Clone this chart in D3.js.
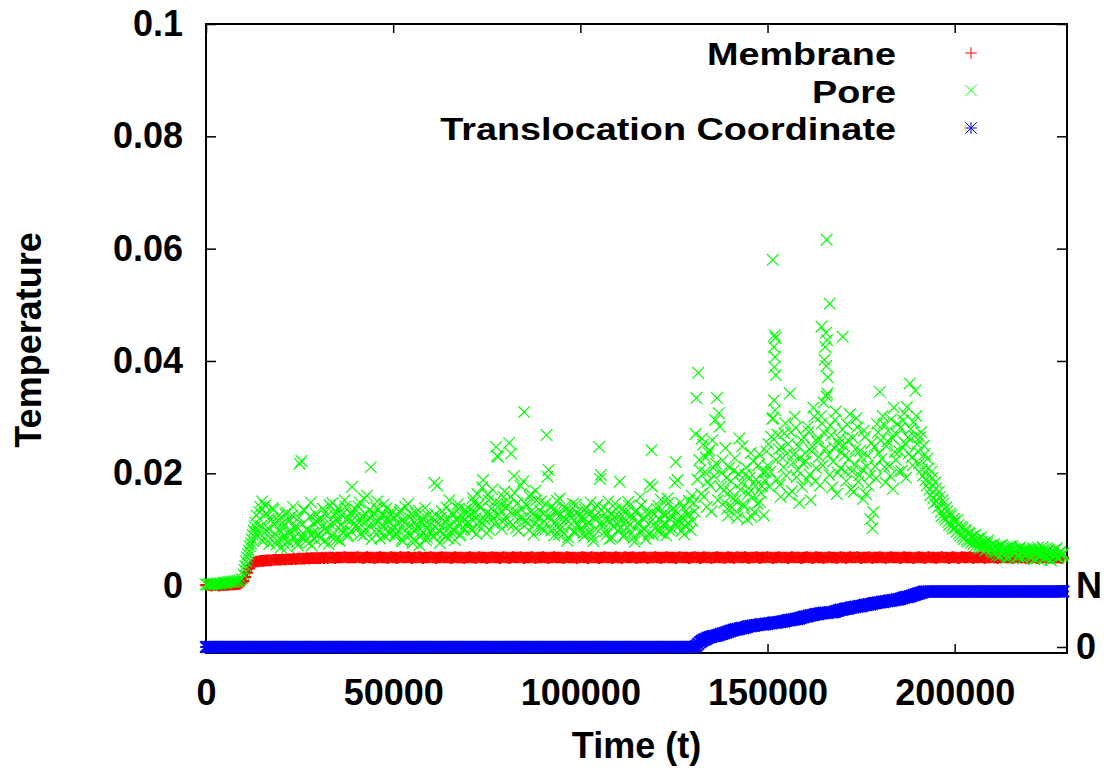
<!DOCTYPE html>
<html>
<head>
<meta charset="utf-8">
<script src="https://cdn.jsdelivr.net/npm/d3@7"></script>
<style>
  body { margin: 0; background: #fff; }
  svg text { font-family: "Liberation Sans", Arial, Helvetica, sans-serif; font-weight: bold; }
</style>
</head>
<body>
<div id="chart"></div>
<script>
// samples are written every 500 time units, starting at t = 0
const sampleStep = 500;

// Membrane temperature
const membrane = [
  0.0001,0.0001,0.0001,0.0000,0.0001,0.0001,0.0001,0.0000,0.0001,0.0001,0.0001,0.0001,0.0001,0.0002,0.0002,0.0002,0.0002,0.0003,0.0003,0.0005,
  0.0008,0.0015,0.0023,0.0030,0.0036,0.0040,0.0042,0.0043,0.0043,0.0044,0.0044,0.0044,0.0045,0.0045,0.0045,0.0045,0.0046,0.0046,0.0046,0.0046,
  0.0046,0.0047,0.0046,0.0047,0.0047,0.0047,0.0047,0.0048,0.0047,0.0048,0.0048,0.0048,0.0048,0.0048,0.0049,0.0048,0.0049,0.0049,0.0049,0.0049,
  0.0049,0.0049,0.0050,0.0049,0.0050,0.0049,0.0050,0.0050,0.0050,0.0049,0.0050,0.0050,0.0050,0.0050,0.0051,0.0050,0.0050,0.0050,0.0050,0.0050,
  0.0050,0.0051,0.0050,0.0050,0.0049,0.0050,0.0051,0.0050,0.0050,0.0050,0.0049,0.0050,0.0050,0.0051,0.0050,0.0050,0.0050,0.0049,0.0050,0.0051,
  0.0050,0.0050,0.0049,0.0050,0.0051,0.0050,0.0050,0.0050,0.0051,0.0050,0.0049,0.0050,0.0050,0.0050,0.0051,0.0050,0.0049,0.0050,0.0050,0.0050,
  0.0051,0.0050,0.0050,0.0049,0.0050,0.0050,0.0051,0.0050,0.0050,0.0050,0.0050,0.0049,0.0050,0.0051,0.0050,0.0050,0.0050,0.0050,0.0049,0.0050,
  0.0050,0.0051,0.0050,0.0050,0.0049,0.0050,0.0051,0.0050,0.0050,0.0050,0.0049,0.0050,0.0050,0.0051,0.0050,0.0050,0.0050,0.0049,0.0050,0.0051,
  0.0050,0.0050,0.0049,0.0050,0.0051,0.0050,0.0050,0.0050,0.0051,0.0050,0.0049,0.0050,0.0050,0.0050,0.0051,0.0050,0.0049,0.0050,0.0050,0.0050,
  0.0051,0.0050,0.0050,0.0049,0.0050,0.0050,0.0051,0.0050,0.0050,0.0050,0.0050,0.0049,0.0050,0.0051,0.0050,0.0050,0.0050,0.0050,0.0049,0.0050,
  0.0050,0.0051,0.0050,0.0050,0.0049,0.0050,0.0051,0.0050,0.0050,0.0050,0.0049,0.0050,0.0050,0.0051,0.0050,0.0050,0.0050,0.0049,0.0050,0.0051,
  0.0050,0.0050,0.0049,0.0050,0.0051,0.0050,0.0050,0.0050,0.0051,0.0050,0.0049,0.0050,0.0050,0.0050,0.0051,0.0050,0.0049,0.0050,0.0050,0.0050,
  0.0051,0.0050,0.0050,0.0049,0.0050,0.0050,0.0051,0.0050,0.0050,0.0050,0.0050,0.0049,0.0050,0.0051,0.0050,0.0050,0.0050,0.0050,0.0049,0.0050,
  0.0050,0.0051,0.0050,0.0050,0.0049,0.0050,0.0051,0.0050,0.0050,0.0050,0.0049,0.0050,0.0050,0.0051,0.0050,0.0050,0.0050,0.0049,0.0050,0.0051,
  0.0050,0.0050,0.0049,0.0050,0.0051,0.0050,0.0050,0.0050,0.0051,0.0050,0.0049,0.0050,0.0050,0.0050,0.0051,0.0050,0.0049,0.0050,0.0050,0.0050,
  0.0051,0.0050,0.0050,0.0049,0.0050,0.0050,0.0051,0.0050,0.0050,0.0050,0.0050,0.0049,0.0050,0.0051,0.0050,0.0050,0.0050,0.0050,0.0049,0.0050,
  0.0050,0.0051,0.0050,0.0050,0.0049,0.0050,0.0051,0.0050,0.0050,0.0050,0.0049,0.0050,0.0050,0.0051,0.0050,0.0050,0.0050,0.0049,0.0050,0.0051,
  0.0050,0.0050,0.0049,0.0050,0.0051,0.0050,0.0050,0.0050,0.0051,0.0050,0.0049,0.0050,0.0050,0.0050,0.0051,0.0050,0.0049,0.0050,0.0050,0.0050,
  0.0051,0.0050,0.0050,0.0049,0.0050,0.0050,0.0051,0.0050,0.0050,0.0050,0.0050,0.0049,0.0050,0.0051,0.0050,0.0050,0.0050,0.0050,0.0049,0.0050,
  0.0050,0.0051,0.0050,0.0050,0.0049,0.0050,0.0051,0.0050,0.0050,0.0050,0.0049,0.0050,0.0050,0.0051,0.0050,0.0050,0.0050,0.0049,0.0050,0.0051,
  0.0050,0.0050,0.0049,0.0050,0.0051,0.0050,0.0050,0.0050,0.0051,0.0050,0.0049,0.0050,0.0050,0.0050,0.0051,0.0050,0.0049,0.0050,0.0050,0.0050,
  0.0051,0.0050,0.0050,0.0049,0.0050,0.0050,0.0051,0.0050,0.0050,0.0050,0.0050,0.0049,0.0050,0.0051,0.0050,0.0050,0.0050,0.0050,0.0049,0.0050,
  0.0050,0.0051,0.0050,0.0050,0.0049,0.0050,0.0051,0.0050,0.0050,0.0050,0.0049,0.0050,0.0050,0.0051,0.0050,0.0050,0.0050,0.0049,0.0050
];

// Pore temperature, samples at t = 0, 500, 1000, ...
const pore = [
  0.0002,0.0002,0.0003,0.0002,0.0003,0.0003,0.0004,0.0004,0.0004,0.0005,0.0005,0.0005,0.0006,0.0006,0.0007,0.0007,0.0008,0.0008,0.0009,0.0012,
  0.0020,0.0035,0.0050,0.0062,0.0075,0.0090,0.0105,0.0125,0.0095,0.0140,0.0150,0.0085,0.0128,0.0102,0.0075,0.0118,0.0135,0.0092,0.0080,0.0125,
  0.0068,0.0112,0.0090,0.0130,0.0078,0.0098,0.0125,0.0085,0.0106,0.0072,0.0217,0.0222,0.0135,0.0088,0.0101,0.0076,0.0148,0.0094,0.0083,0.0115,
  0.0092,0.0120,0.0105,0.0078,0.0131,0.0099,0.0143,0.0087,0.0112,0.0125,0.0082,0.0138,0.0108,0.0095,0.0152,0.0118,0.0090,0.0129,0.0176,0.0110,
  0.0135,0.0102,0.0148,0.0116,0.0089,0.0128,0.0160,0.0107,0.0211,0.0124,0.0097,0.0139,0.0113,0.0084,0.0126,0.0145,0.0101,0.0119,0.0092,0.0133,
  0.0106,0.0088,0.0124,0.0097,0.0135,0.0079,0.0112,0.0101,0.0146,0.0090,0.0118,0.0083,0.0129,0.0104,0.0072,0.0115,0.0095,0.0138,0.0086,0.0109,
  0.0098,0.0121,0.0183,0.0093,0.0110,0.0076,0.0132,0.0102,0.0088,0.0117,0.0152,0.0095,0.0126,0.0081,0.0108,0.0137,0.0091,0.0114,0.0100,0.0128,
  0.0112,0.0135,0.0098,0.0148,0.0120,0.0163,0.0105,0.0140,0.0188,0.0118,0.0093,0.0152,0.0127,0.0171,0.0110,0.0247,0.0229,0.0136,0.0101,0.0158,
  0.0122,0.0143,0.0254,0.0235,0.0108,0.0165,0.0131,0.0097,0.0178,0.0120,0.0309,0.0145,0.0112,0.0158,0.0133,0.0091,0.0169,0.0124,0.0106,0.0150,
  0.0128,0.0099,0.0268,0.0206,0.0117,0.0141,0.0089,0.0132,0.0104,0.0155,0.0118,0.0093,0.0137,0.0080,0.0125,0.0110,0.0146,0.0096,0.0130,0.0107,
  0.0101,0.0124,0.0088,0.0139,0.0112,0.0095,0.0131,0.0079,0.0117,0.0143,0.0247,0.0197,0.0106,0.0128,0.0091,0.0150,0.0113,0.0085,0.0122,0.0136,
  0.0098,0.0185,0.0115,0.0087,0.0129,0.0104,0.0142,0.0093,0.0120,0.0078,0.0134,0.0109,0.0158,0.0096,0.0118,0.0083,0.0127,0.0180,0.0241,0.0090,
  0.0112,0.0136,0.0095,0.0153,0.0108,0.0124,0.0089,0.0147,0.0118,0.0101,0.0131,0.0220,0.0188,0.0114,0.0097,0.0139,0.0106,0.0126,0.0151,0.0099,
  0.0115,0.0132,0.0334,0.0379,0.0205,0.0262,0.0158,0.0228,0.0185,0.0241,0.0132,0.0210,0.0295,0.0334,0.0307,0.0176,0.0223,0.0148,0.0192,0.0125,
  0.0168,0.0139,0.0205,0.0152,0.0121,0.0262,0.0183,0.0145,0.0197,0.0118,0.0173,0.0236,0.0158,0.0131,0.0189,0.0214,0.0149,0.0177,0.0125,0.0202,
  0.0214,0.0176,0.0265,0.0298,0.0312,0.0189,0.0243,0.0158,0.0227,0.0271,0.0196,0.0252,0.0342,0.0168,0.0233,0.0281,0.0205,0.0147,0.0259,0.0218,
  0.0236,0.0189,0.0274,0.0152,0.0247,0.0301,0.0209,0.0263,0.0178,0.0289,0.0326,0.0244,0.0342,0.0197,0.0268,0.0221,0.0295,0.0163,0.0252,0.0209,
  0.0278,0.0231,0.0186,0.0259,0.0305,0.0204,0.0167,0.0243,0.0282,0.0196,0.0229,0.0154,0.0265,0.0212,0.0178,0.0118,0.0102,0.0247,0.0191,0.0273,
  0.0345,0.0226,0.0288,0.0184,0.0257,0.0213,0.0296,0.0172,0.0238,0.0269,0.0203,0.0281,0.0246,0.0307,0.0192,0.0264,0.0360,0.0228,0.0291,0.0347,
  0.0252,0.0218,0.0273,0.0196,0.0234,0.0178,0.0209,0.0161,0.0192,0.0147,0.0173,0.0139,0.0158,0.0124,0.0146,0.0117,0.0132,0.0108,0.0125,0.0101,
  0.0114,0.0096,0.0108,0.0089,0.0102,0.0083,0.0097,0.0078,0.0092,0.0085,0.0074,0.0090,0.0079,0.0071,0.0086,0.0068,0.0077,0.0065,0.0081,0.0070,
  0.0066,0.0074,0.0059,0.0069,0.0053,0.0072,0.0061,0.0056,0.0067,0.0050,0.0063,0.0071,0.0057,0.0064,0.0052,0.0068,0.0060,0.0055,0.0065,0.0058,
  0.0062,0.0051,0.0066,0.0057,0.0048,0.0061,0.0054,0.0069,0.0050,0.0058,0.0063,0.0046,0.0059,0.0055,0.0064,0.0049,0.0060,0.0053,0.0057
];

// Pore temperature, in-between samples at t = 10250, 10750, 11250, ...
const poreMidStart = 10250;
const poreMid = [
  0.0028,0.0043,0.0056,0.0070,0.0082,0.0098,0.0112,0.0088,0.0131,0.0106,0.0079,0.0143,0.0097,0.0119,0.0084,0.0138,0.0109,0.0073,0.0116,0.0095,
  0.0104,0.0083,0.0127,0.0069,0.0115,0.0092,0.0140,0.0101,0.0077,0.0121,0.0087,0.0109,0.0134,0.0080,0.0097,0.0123,0.0071,0.0111,0.0128,0.0089,
  0.0116,0.0085,0.0137,0.0101,0.0124,0.0074,0.0109,0.0147,0.0093,0.0130,0.0115,0.0080,0.0126,0.0103,0.0141,0.0088,0.0119,0.0097,0.0133,0.0121,
  0.0108,0.0141,0.0092,0.0123,0.0155,0.0099,0.0117,0.0134,0.0083,0.0129,0.0112,0.0150,0.0096,0.0121,0.0107,0.0088,0.0138,0.0114,0.0126,0.0098,
  0.0121,0.0094,0.0110,0.0131,0.0082,0.0117,0.0140,0.0093,0.0105,0.0127,0.0076,0.0113,0.0099,0.0134,0.0087,0.0120,0.0108,0.0081,0.0125,0.0096,
  0.0110,0.0086,0.0127,0.0178,0.0099,0.0121,0.0091,0.0115,0.0139,0.0084,0.0106,0.0130,0.0097,0.0118,0.0145,0.0089,0.0124,0.0103,0.0135,0.0112,
  0.0124,0.0101,0.0156,0.0131,0.0092,0.0143,0.0115,0.0175,0.0108,0.0128,0.0161,0.0099,0.0137,0.0119,0.0150,0.0231,0.0126,0.0145,0.0113,0.0168,
  0.0139,0.0110,0.0158,0.0128,0.0195,0.0102,0.0147,0.0121,0.0136,0.0186,0.0115,0.0142,0.0098,0.0163,0.0127,0.0109,0.0152,0.0118,0.0134,0.0100,
  0.0115,0.0146,0.0194,0.0123,0.0098,0.0135,0.0112,0.0151,0.0091,0.0127,0.0104,0.0140,0.0117,0.0086,0.0132,0.0121,0.0095,0.0144,0.0109,0.0126,
  0.0119,0.0093,0.0135,0.0107,0.0126,0.0148,0.0086,0.0122,0.0101,0.0130,0.0190,0.0114,0.0139,0.0097,0.0118,0.0083,0.0129,0.0105,0.0146,0.0111,
  0.0123,0.0102,0.0137,0.0090,0.0116,0.0149,0.0108,0.0126,0.0085,0.0131,0.0112,0.0096,0.0143,0.0120,0.0101,0.0135,0.0092,0.0114,0.0176,0.0127,
  0.0104,0.0142,0.0118,0.0093,0.0129,0.0110,0.0155,0.0099,0.0124,0.0137,0.0183,0.0115,0.0106,0.0148,0.0121,0.0091,0.0133,0.0112,0.0126,0.0160,
  0.0147,0.0270,0.0189,0.0224,0.0163,0.0251,0.0202,0.0140,0.0236,0.0178,0.0259,0.0195,0.0217,0.0152,0.0283,0.0201,0.0169,0.0245,0.0137,0.0210,
  0.0186,0.0154,0.0227,0.0131,0.0199,0.0171,0.0248,0.0140,0.0210,0.0163,0.0192,0.0122,0.0221,0.0178,0.0146,0.0234,0.0165,0.0201,0.0187,0.0239,
  0.0252,0.0203,0.0297,0.0330,0.0224,0.0268,0.0179,0.0246,0.0211,0.0289,0.0235,0.0162,0.0273,0.0219,0.0301,0.0193,0.0248,0.0227,0.0176,0.0264,
  0.0221,0.0283,0.0198,0.0239,0.0317,0.0186,0.0256,0.0229,0.0302,0.0214,0.0271,0.0337,0.0233,0.0285,0.0175,0.0246,0.0310,0.0201,0.0262,0.0238,
  0.0249,0.0203,0.0287,0.0226,0.0171,0.0263,0.0215,0.0298,0.0185,0.0240,0.0207,0.0276,0.0163,0.0231,0.0195,0.0254,0.0131,0.0212,0.0288,0.0236,
  0.0259,0.0302,0.0211,0.0248,0.0276,0.0195,0.0263,0.0317,0.0224,0.0288,0.0239,0.0204,0.0294,0.0253,0.0318,0.0235,0.0279,0.0214,0.0266,0.0302,
  0.0238,0.0264,0.0207,0.0249,0.0188,0.0226,0.0171,0.0203,0.0155,0.0184,0.0150,0.0167,0.0131,0.0152,0.0121,0.0139,0.0113,0.0128,0.0106,0.0119,
  0.0103,0.0117,0.0093,0.0105,0.0087,0.0099,0.0081,0.0094,0.0076,0.0088,0.0082,0.0072,0.0084,0.0067,0.0078,0.0073,0.0063,0.0075,0.0069,0.0062,
  0.0059,0.0068,0.0054,0.0063,0.0071,0.0057,0.0066,0.0049,0.0061,0.0070,0.0055,0.0064,0.0058,0.0052,0.0067,0.0060,0.0048,0.0062,0.0056,0.0065,
  0.0054,0.0063,0.0047,0.0060,0.0068,0.0052,0.0058,0.0065,0.0050,0.0061,0.0056,0.0045,0.0062,0.0053,0.0067,0.0051,0.0059,0.0055
];

// extra Pore samples that pile up at nearly the same time (the spikes)
const poreSpikeTimes = [151400, 151900, 152100, 151700, 152000, 151800, 152200, 164400, 165800, 166600, 165600, 165900, 165400, 165200, 165700, 166100, 170100];
const poreSpikeValues = [0.0580, 0.0446, 0.0441, 0.0425, 0.0407, 0.0389, 0.0375, 0.0461, 0.0616, 0.0502, 0.0450, 0.0437, 0.0425, 0.0402, 0.0391, 0.0371, 0.0443];

// Translocation coordinate, as a fraction of N (right axis)
const translocation = [
  0,0,0,0,0,0,0,0,0,0,0,0,0,0,0,0,0,0,0,0,
  0,0,0,0,0,0,0,0,0,0,0,0,0,0,0,0,0,0,0,0,
  0,0,0,0,0,0,0,0,0,0,0,0,0,0,0,0,0,0,0,0,
  0,0,0,0,0,0,0,0,0,0,0,0,0,0,0,0,0,0,0,0,
  0,0,0,0,0,0,0,0,0,0,0,0,0,0,0,0,0,0,0,0,
  0,0,0,0,0,0,0,0,0,0,0,0,0,0,0,0,0,0,0,0,
  0,0,0,0,0,0,0,0,0,0,0,0,0,0,0,0,0,0,0,0,
  0,0,0,0,0,0,0,0,0,0,0,0,0,0,0,0,0,0,0,0,
  0,0,0,0,0,0,0,0,0,0,0,0,0,0,0,0,0,0,0,0,
  0,0,0,0,0,0,0,0,0,0,0,0,0,0,0,0,0,0,0,0,
  0,0,0,0,0,0,0,0,0,0,0,0,0,0,0,0,0,0,0,0,
  0,0,0,0,0,0,0,0,0,0,0,0,0,0,0,0,0,0,0,0,
  0,0,0,0,0,0,0,0,0,0,0,0,0,0,0,0,0,0,0,0,
  0,0,0.02,0.05,0.08,0.10,0.12,0.13,0.15,0.16,0.17,0.18,0.18,0.19,0.20,0.21,0.22,0.23,0.24,0.25,
  0.26,0.27,0.28,0.29,0.29,0.30,0.31,0.31,0.32,0.33,0.34,0.34,0.35,0.35,0.36,0.36,0.37,0.37,0.37,0.38,
  0.38,0.39,0.39,0.40,0.40,0.40,0.41,0.41,0.42,0.42,0.43,0.44,0.44,0.45,0.45,0.46,0.46,0.47,0.48,0.49,
  0.50,0.50,0.51,0.52,0.52,0.53,0.54,0.54,0.55,0.55,0.56,0.56,0.56,0.57,0.57,0.57,0.58,0.59,0.60,0.61,
  0.61,0.62,0.63,0.63,0.64,0.65,0.65,0.66,0.66,0.67,0.67,0.68,0.69,0.69,0.70,0.70,0.71,0.72,0.72,0.73,
  0.73,0.74,0.74,0.75,0.75,0.76,0.76,0.77,0.77,0.78,0.78,0.79,0.80,0.81,0.82,0.82,0.83,0.84,0.85,0.86,
  0.87,0.88,0.89,0.90,0.91,0.91,0.91,0.91,0.91,0.91,0.91,0.91,0.91,0.91,0.91,0.91,0.91,0.91,0.91,0.91,
  0.91,0.91,0.91,0.91,0.91,0.91,0.91,0.91,0.91,0.91,0.91,0.91,0.91,0.91,0.91,0.91,0.91,0.91,0.91,0.91,
  0.91,0.91,0.91,0.91,0.91,0.91,0.91,0.91,0.91,0.91,0.91,0.91,0.91,0.91,0.91,0.91,0.91,0.91,0.91,0.91,
  0.91,0.91,0.91,0.91,0.91,0.91,0.91,0.91,0.91,0.91,0.91,0.91,0.91,0.91,0.91,0.91,0.91,0.91,0.91
];

const xTicks = [0, 50000, 100000, 150000, 200000];
const yTicks = [0, 0.02, 0.04, 0.06, 0.08, 0.1];
const y2Ticks = [0, 1];
const y2TickLabels = ["0", "N"];
const legendNames = ["Membrane", "Pore", "Translocation Coordinate"];

const width = 1104;
const height = 770;
const plot = { left: 206, right: 1067, top: 24, bottom: 653 };

const svg = d3.select("#chart")
  .append("svg")
  .attr("width", width)
  .attr("height", height)
  .style("background", "white");

const x = d3.scaleLinear().domain([0, 230000]).range([plot.left, plot.right]);
const y = d3.scaleLinear().domain([-0.012, 0.1]).range([plot.bottom, plot.top]);
const y2 = d3.scaleLinear().domain([0, 1]).range([647, 586]);

// gnuplot style point shapes
const ms = 5.8;
const plusPath = `M${-ms},0H${ms}M0,${-ms}V${ms}`;
const crossPath = `M${-ms},${-ms}L${ms},${ms}M${-ms},${ms}L${ms},${-ms}`;
const starPath = plusPath + crossPath;

function styleAxis(g) {
  g.select(".domain").remove();
  g.selectAll(".tick line").attr("stroke", "#000").attr("stroke-width", 1.5);
  g.selectAll("text")
    .attr("fill", "#000")
    .attr("font-size", 36)
    .attr("font-family", '"Liberation Sans", Arial, sans-serif')
    .attr("font-weight", "bold");
}

// axes
svg.append("g")
  .attr("transform", `translate(0,${plot.bottom})`)
  .call(d3.axisBottom(x).tickValues(xTicks).tickSize(-9).tickPadding(26).tickFormat(d3.format("d")))
  .call(styleAxis);

svg.append("g")
  .attr("transform", `translate(0,${plot.top})`)
  .call(d3.axisTop(x).tickValues(xTicks).tickSize(-9).tickFormat(""))
  .call(styleAxis);

svg.append("g")
  .attr("transform", `translate(${plot.left},0)`)
  .call(d3.axisLeft(y).tickValues(yTicks).tickSize(-10).tickPadding(23).tickFormat(d => d === 0.1 ? "0.1" : d3.format(".2f")(d).replace(/^0\.00$/, "0")))
  .call(styleAxis);

svg.append("g")
  .attr("transform", `translate(${plot.right},0)`)
  .call(d3.axisRight(y).tickValues(yTicks).tickSize(-10).tickFormat(""))
  .call(styleAxis);

svg.append("g")
  .attr("transform", `translate(${plot.right},0)`)
  .call(d3.axisRight(y2).tickValues(y2Ticks).tickSize(-10).tickPadding(9).tickFormat((d, i) => y2TickLabels[i]))
  .call(styleAxis);

// frame
svg.append("rect")
  .attr("x", plot.left)
  .attr("y", plot.top)
  .attr("width", plot.right - plot.left)
  .attr("height", plot.bottom - plot.top)
  .attr("fill", "none")
  .attr("stroke", "#000")
  .attr("stroke-width", 2);

// axis titles
svg.append("text")
  .attr("x", (plot.left + plot.right) / 2)
  .attr("y", 758)
  .attr("text-anchor", "middle")
  .attr("font-size", 36)
  .text("Time (t)");

svg.append("text")
  .attr("transform", `translate(41,340) rotate(-90)`)
  .attr("text-anchor", "middle")
  .attr("font-size", 36)
  .text("Temperature");

// series
const membraneData = membrane.map((v, i) => ({ t: i * sampleStep, v }));
const poreData = pore.map((v, i) => ({ t: i * sampleStep, v }))
  .concat(poreMid.map((v, i) => ({ t: poreMidStart + i * sampleStep, v })))
  .concat(poreSpikeTimes.map((t, i) => ({ t, v: poreSpikeValues[i] })));
const translocationData = translocation.map((v, i) => ({ t: i * sampleStep, v }));

// the original has many more samples, so the bands are drawn with a heavier pen
svg.append("g")
  .selectAll("path")
  .data(membraneData)
  .join("path")
    .attr("transform", d => `translate(${x(d.t)},${y(d.v)})`)
    .attr("d", plusPath)
    .attr("fill", "none")
    .attr("stroke", "#ff0000")
    .attr("stroke-width", 2.2);

svg.append("g")
  .selectAll("path")
  .data(poreData)
  .join("path")
    .attr("transform", d => `translate(${x(d.t)},${y(d.v)})`)
    .attr("d", crossPath)
    .attr("fill", "none")
    .attr("stroke", "#00ff00")
    .attr("stroke-width", 1.2);

svg.append("g")
  .selectAll("path")
  .data(translocationData)
  .join("path")
    .attr("transform", d => `translate(${x(d.t)},${y2(d.v)})`)
    .attr("d", starPath)
    .attr("fill", "none")
    .attr("stroke", "#0000ff")
    .attr("stroke-width", 2.2);

// legend
const legendColors = ["#ff0000", "#00ff00", "#0000ff"];
const legendShapes = [plusPath, crossPath, starPath];
const legend = svg.append("g");
legendNames.forEach((name, i) => {
  const base = 65 + i * 37.5;
  legend.append("text")
    .attr("transform", `translate(896,${base}) scale(1.22,1)`)
    .attr("text-anchor", "end")
    .attr("font-size", 31)
    .text(name);
  legend.append("path")
    .attr("transform", `translate(971,${base - 12})`)
    .attr("d", legendShapes[i])
    .attr("fill", "none")
    .attr("stroke", legendColors[i])
    .attr("stroke-width", 1);
});
</script>
</body>
</html>
